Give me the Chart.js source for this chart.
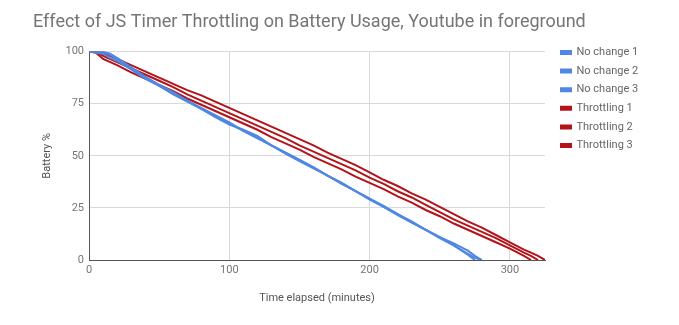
<!DOCTYPE html>
<html>
<head>
<meta charset="utf-8">
<script src="https://cdn.jsdelivr.net/npm/chart.js@4.4.1/dist/chart.umd.min.js"></script>
<style>
html,body{margin:0;padding:0;background:#fff;}
#wrap{width:679px;height:325px;position:relative;}
</style>
</head>
<body>
<div id="wrap"><canvas id="c" width="679" height="325"></canvas></div>
<script>
const chartTitle = "Effect of JS Timer Throttling on Battery Usage, Youtube in foreground";
const xAxisTitle = "Time elapsed (minutes)";
const yAxisTitle = "Battery %";
const xTickValues = [0, 100, 200, 300];
const yTickValues = [0, 25, 50, 75, 100];
const seriesNames = ["No change 1", "No change 2", "No change 3", "Throttling 1", "Throttling 2", "Throttling 3"];

const noChangeMinutes = [0, 10, 15, 20, 30, 40, 50, 60, 70, 80, 90, 100, 110, 120, 130, 140, 150, 160, 170, 180, 190, 200, 210, 220, 230, 240, 250, 260, 270, 275, 280];
const noChange1 = [100, 100, 98.5, 96.5, 92, 87.5, 83.5, 80, 76.5, 72.5, 69, 65.5, 62, 58.5, 55, 51.5, 48, 44.5, 40.5, 37, 33, 29, 25.5, 22, 18, 14.5, 10.5, 7, 3, 1, 0];
const noChange2 = [100, 99, 97, 95.5, 91.5, 87, 83.5, 79.5, 76, 72.5, 68.5, 65, 62.5, 59.5, 55, 51, 47.5, 44, 40.5, 36.5, 33, 29.5, 25.5, 21.5, 18, 14.5, 11, 8, 4.5, 2, 0];
const noChange3 = [100, 100, 99, 97, 92.5, 88, 84, 80.5, 76.5, 73, 69.5, 66, 62, 58.5, 55, 51.5, 48, 44.5, 40.5, 37, 33, 29.5, 26, 22, 18.5, 14.5, 11, 7, 2.5, 0, null];

const throttlingMinutes = [0, 5, 10, 20, 30, 40, 50, 60, 70, 80, 90, 100, 110, 120, 130, 140, 150, 160, 170, 180, 190, 200, 210, 220, 230, 240, 250, 260, 270, 280, 290, 300, 310, 315, 320, 325];
const throttling1 = [100, 100, 99.5, 96.5, 93.5, 90.5, 87.5, 84.5, 81.5, 79, 76, 73, 70, 67, 64, 61, 58, 55, 51.5, 48.5, 45.5, 42, 38.5, 35.5, 32, 29, 25.5, 22, 18.5, 15.5, 12, 8.5, 5, 3.5, 2, 0];
const throttling2 = [100, 100, 98, 95, 92, 89, 86, 83, 79.5, 76.5, 73.5, 70.5, 67.5, 64.5, 61.5, 58.5, 55, 52, 49, 46, 43, 39.5, 36.5, 33, 30, 26.5, 23, 19.5, 16.5, 13.5, 10.5, 7, 3.5, 2, 0, null];
const throttling3 = [100, 99.5, 96.5, 93.5, 90, 87, 84, 81, 77.5, 74.5, 71.5, 68.5, 65.5, 62.5, 59, 56, 53, 49.5, 46.5, 43.5, 40, 37, 34, 30.5, 27.5, 24, 21, 17.5, 14.5, 11.5, 8.5, 5.5, 2, 0, null, null];

const blueColor = "#4f88e3";
const redColor = "#b3141a";

function pts(xs, ys) {
  return xs.map((x, i) => ({x: x, y: ys[i]})).filter(p => p.y !== null);
}

const seriesData = [
  pts(noChangeMinutes, noChange1),
  pts(noChangeMinutes, noChange2),
  pts(noChangeMinutes, noChange3),
  pts(throttlingMinutes, throttling1),
  pts(throttlingMinutes, throttling2),
  pts(throttlingMinutes, throttling3)
];

const datasets = seriesNames.map((name, i) => ({
  label: name,
  data: seriesData[i],
  borderColor: i < 3 ? blueColor : redColor,
  backgroundColor: i < 3 ? blueColor : redColor,
  borderWidth: 2,
  pointRadius: 0,
  tension: 0,
  fill: false
}));

const legendTweak = {
  id: "legendTweak",
  beforeLayout(chart) {
    const lg = chart.legend;
    if (lg && !lg._patched) {
      const f = lg.fit;
      lg.fit = function() { f.call(this); this.width = 134; };
      lg._patched = true;
    }
  },
  afterLayout(chart) {
    const lg = chart.legend;
    if (lg) {
      lg.left = 553.4;
      lg.top = 39.4;
    }
  }
};

Chart.defaults.font.family = "Roboto";

new Chart(document.getElementById("c"), {
  type: "line",
  data: {datasets: datasets},
  options: {
    responsive: false,
    animation: false,
    devicePixelRatio: 1,
    layout: {padding: {left: 33, right: 0, top: 0, bottom: 0}},
    plugins: {
      title: {
        display: true,
        text: chartTitle,
        align: "start",
        color: "#757575",
        font: {family: "Roboto", size: 18, weight: "normal"},
        padding: {top: 12, bottom: 18}
      },
      legend: {
        display: true,
        position: "right",
        align: "start",
        labels: {
          boxWidth: 10,
          boxHeight: 3,
          padding: 7.6,
          color: "#666666",
          font: {family: "Roboto", size: 11}
        }
      },
      tooltip: {enabled: false}
    },
    scales: {
      x: {
        type: "linear",
        min: 0,
        max: 325,
        afterBuildTicks(scale) { scale.ticks = xTickValues.map(v => ({value: v})); },
        afterFit(scale) { scale.height = 65; },
        ticks: {color: "#757575", font: {family: "Roboto", size: 11}, padding: 4, maxRotation: 0},
        grid: {color: "#d9d9d9", drawTicks: false},
        border: {color: "#555555", width: 1},
        title: {display: true, text: xAxisTitle, color: "#555555", font: {family: "Roboto", size: 11}, padding: {top: 0, bottom: 20}}
      },
      y: {
        type: "linear",
        min: 0,
        max: 100,
        afterBuildTicks(scale) { scale.ticks = yTickValues.map(v => ({value: v})); },
        afterFit(scale) { scale.width = 56; },
        ticks: {color: "#757575", font: {family: "Roboto", size: 11}, padding: 5},
        grid: {color: "#d9d9d9", drawTicks: false},
        border: {color: "#555555", width: 1},
        title: {display: true, text: yAxisTitle, color: "#555555", font: {family: "Roboto", size: 11}, padding: {top: 7.5, bottom: 0}}
      }
    }
  },
  plugins: [legendTweak]
});
</script>
</body>
</html>
